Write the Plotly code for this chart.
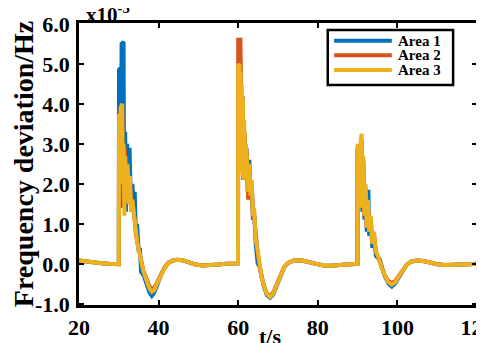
import plotly.graph_objects as go

# ---- data (values in units of 1e-5 Hz) ----
t_area1 = [20, 22, 25, 27.5, 30.0, 30.05, 30.4, 30.5, 30.7, 31.2, 31.35, 31.6, 31.8, 32.1, 32.4, 32.7, 33.0,
           33.4, 33.7, 34.0, 34.3, 34.6, 35.0, 35.3, 35.6, 36.3, 37.0, 37.7, 38.3, 38.9, 39.6, 40.5, 41.5,
           42.5, 43.5, 44.7, 46.0, 47.5, 49, 51, 53, 55, 57, 59.95,
           60.0, 60.3, 60.45, 60.65, 60.85, 61.05, 61.25, 61.5, 61.8, 62.1, 62.4, 62.8, 63.1, 63.4, 63.7,
           64.0, 64.4, 64.9, 65.3, 65.9, 66.5, 67.2, 68.0, 68.8, 69.6, 70.5, 71.5, 72.5, 74, 75.8, 77.5,
           79.5, 81.5, 83.5, 85.5, 88, 89.95,
           90.0, 90.4, 90.6, 91.0, 91.2, 91.4, 91.7, 92.0, 92.3, 92.7, 92.9, 93.3, 93.7, 94.1, 94.6, 95.2,
           95.6, 96.3, 97.0, 97.8, 98.6, 99.4, 100.3, 101.3, 102.3, 103.5, 105, 106.5, 108, 110, 112, 114,
           116, 118, 120]
v_area1 = [0.08, 0.05, 0.02, 0.0, -0.01, 4.85, 4.9, 1.4, 5.5, 5.55, 1.4, 3.3, 1.3, 3.0, 1.8, 2.9, 1.7,
           2.0, 1.6, 1.8, 0.7, 1.0, 0.3, 0.4, -0.2, -0.3, -0.5, -0.72, -0.8, -0.72, -0.55, -0.3, -0.1,
           0.03, 0.08, 0.1, 0.09, 0.04, -0.01, -0.04, -0.04, -0.02, 0.0, 0.01,
           4.7, 4.8, 2.5, 4.6, 2.3, 4.1, 2.1, 3.2, 2.2, 2.9, 1.8, 2.6, 1.7, 2.0, 1.1,
           1.3, 0.5, 0.0, -0.05, -0.38, -0.58, -0.78, -0.85, -0.77, -0.56, -0.32, -0.1, 0.02, 0.08, 0.09, 0.06,
           0.0, -0.04, -0.05, -0.03, -0.01, 0.0,
           2.9, 1.4, 2.8, 3.1, 1.3, 2.6, 1.1, 1.9, 0.8, 1.85, 0.7, 1.1, 0.4, 0.7, 0.2, 0.12,
           0.1, -0.15, -0.35, -0.5, -0.57, -0.5, -0.35, -0.16, -0.03, 0.06, 0.08, 0.07, 0.03, -0.01, -0.03, -0.03,
           -0.02, -0.01, 0.0]

t_area2 = [20, 22, 25, 27.5, 30.0, 30.05, 30.3, 30.45, 30.85, 31.0, 31.3, 31.5, 31.9, 32.2, 32.5, 32.8, 33.1,
           33.4, 33.8, 34.2, 34.6, 35.0, 35.5, 36.2, 37.0, 37.7, 38.3, 38.9, 39.6, 40.5, 41.5,
           42.5, 43.5, 44.7, 46.0, 47.5, 49, 51, 53, 55, 57, 59.95,
           60.0, 60.55, 60.7, 60.9, 61.1, 61.3, 61.6, 61.9, 62.2, 62.5, 62.8, 63.1, 63.4, 63.7,
           64.0, 64.4, 64.8, 65.3, 65.9, 66.5, 67.2, 68.0, 68.8, 69.6, 70.5, 71.5, 72.5, 74, 75.8, 77.5,
           79.5, 81.5, 83.5, 85.5, 88, 89.95,
           90.0, 90.4, 90.6, 91.0, 91.2, 91.4, 91.7, 92.0, 92.3, 92.6, 92.9, 93.3, 93.7, 94.1, 94.6, 95.2,
           96.0, 96.8, 97.6, 98.6, 99.4, 100.3, 101.3, 102.3, 103.5, 105, 106.5, 108, 110, 112, 114,
           116, 118, 120]
v_area2 = [0.08, 0.05, 0.02, 0.0, -0.01, 3.1, 2.0, 3.8, 3.9, 2.0, 1.4, 2.9, 1.6, 2.4, 1.5, 2.1, 1.3,
           1.6, 1.1, 0.9, 0.55, 0.35, 0.1, -0.18, -0.38, -0.56, -0.63, -0.6, -0.47, -0.28, -0.09,
           0.03, 0.08, 0.1, 0.09, 0.04, -0.01, -0.04, -0.04, -0.02, 0.0, 0.01,
           5.6, 5.6, 4.6, 2.3, 4.2, 2.1, 3.3, 2.2, 2.8, 1.6, 2.4, 1.6, 2.0, 1.2,
           1.2, 0.6, 0.35, 0.0, -0.35, -0.55, -0.75, -0.8, -0.72, -0.53, -0.3, -0.09, 0.02, 0.08, 0.09, 0.06,
           0.0, -0.04, -0.05, -0.03, -0.01, 0.0,
           2.9, 1.4, 2.8, 3.1, 1.4, 2.6, 1.2, 1.9, 0.9, 1.5, 0.8, 1.1, 0.5, 0.75, 0.3, 0.15,
           -0.1, -0.28, -0.42, -0.48, -0.44, -0.31, -0.14, -0.02, 0.06, 0.08, 0.07, 0.03, -0.01, -0.03, -0.03,
           -0.02, -0.01, 0.0]

t_area3 = [20, 22, 25, 27.5, 30.0, 30.05, 30.1, 30.25, 30.45, 30.85, 31.0, 31.2, 31.4, 31.6, 31.9, 32.2, 32.5,
           32.8, 33.1, 33.4, 33.8, 34.2, 34.6, 35.0, 35.5, 36.2, 37.0, 37.7, 38.3, 38.9, 39.6, 40.5, 41.5,
           42.5, 43.5, 44.7, 46.0, 47.5, 49, 51, 53, 55, 57, 59.95,
           60.0, 60.3, 60.45, 60.6, 60.75, 60.9, 61.05, 61.2, 61.35, 61.5, 61.7, 61.9, 62.2, 62.5, 62.8, 63.1,
           63.4, 63.7, 64.0, 64.4, 64.8, 65.3, 65.9, 66.5, 67.2, 68.0, 68.8, 69.6, 70.5, 71.5, 72.5, 74, 75.8,
           77.5, 79.5, 81.5, 83.5, 85.5, 88, 89.95,
           90.0, 90.4, 90.6, 91.0, 91.2, 91.4, 91.7, 92.0, 92.3, 92.6, 92.9, 93.3, 93.7, 94.1, 94.6, 95.2,
           96.0, 96.8, 97.6, 98.6, 99.4, 100.3, 101.3, 102.3, 103.5, 105, 106.5, 108, 110, 112, 114,
           116, 118, 120]
v_area3 = [0.08, 0.05, 0.02, 0.0, -0.01, 3.2, 3.75, 2.1, 3.9, 4.0, 2.0, 3.0, 1.2, 2.7, 1.6, 2.5, 1.5,
           2.2, 1.3, 1.6, 1.1, 0.9, 0.55, 0.35, 0.1, -0.2, -0.42, -0.62, -0.7, -0.66, -0.5, -0.3, -0.1,
           0.03, 0.08, 0.1, 0.09, 0.04, -0.01, -0.04, -0.04, -0.02, 0.0, 0.01,
           4.95, 5.0, 2.6, 4.8, 2.3, 4.5, 2.2, 4.1, 2.1, 3.6, 2.2, 3.0, 2.6, 1.8, 2.5, 1.7,
           2.1, 1.2, 1.4, 0.6, 0.4, 0.0, -0.35, -0.55, -0.75, -0.83, -0.75, -0.55, -0.32, -0.1, 0.02, 0.08, 0.09,
           0.06, 0.0, -0.04, -0.05, -0.03, -0.01, 0.0,
           3.0, 1.4, 2.9, 3.25, 1.4, 2.7, 1.2, 2.0, 0.9, 1.6, 0.8, 1.2, 0.5, 0.8, 0.3, 0.18,
           -0.1, -0.3, -0.45, -0.52, -0.47, -0.33, -0.15, -0.02, 0.06, 0.08, 0.07, 0.03, -0.01, -0.03, -0.03,
           -0.02, -0.01, 0.0]

series_names = ["Area 1", "Area 2", "Area 3"]
series_colors = ["#0072BD", "#D95319", "#EDB120"]

x_ticks = [20, 40, 60, 80, 100, 120]
y_ticks = [-1, 0, 1, 2, 3, 4, 5, 6]
y_ticklabels = ["-1.0", "0.0", "1.0", "2.0", "3.0", "4.0", "5.0", "6.0"]

SERIF = "Times New Roman, Liberation Serif, serif"

fig = go.Figure()
for name, color, t, v in zip(series_names, series_colors,
                             [t_area1, t_area2, t_area3], [v_area1, v_area2, v_area3]):
    fig.add_trace(go.Scatter(x=t, y=v, mode="lines", name=name, showlegend=False,
                             line=dict(color=color, width=4)))

axis_common = dict(showgrid=False, zeroline=False, showline=True, linecolor="black", linewidth=2.5,
                   mirror="ticks", ticks="inside", ticklen=5, tickwidth=2, tickcolor="black",
                   automargin=False, ticklabeloverflow="allow",
                   tickfont=dict(family=SERIF, size=22, color="black", weight="bold"))

# the page body adds an 8px offset, so the figure is sized to fit inside the window
fig.update_layout(
    width=476, height=335,
    margin=dict(l=71, r=7, t=15, b=38),
    paper_bgcolor="white", plot_bgcolor="white",
    xaxis=dict(range=[20, 120], tickvals=x_ticks, ticklabelstandoff=1, **axis_common),
    yaxis=dict(range=[-1.03, 6.02], tickvals=y_ticks, ticktext=y_ticklabels, ticklabelstandoff=2,
               title=dict(text="Frequency deviation/Hz", standoff=2,
                          font=dict(family=SERIF, size=28, color="black", weight="bold")),
               **axis_common),
)

# exponent label and x-axis label
fig.add_annotation(xref="paper", yref="paper", x=0.012, y=1.0, xanchor="left", yanchor="bottom",
                   yshift=-6, showarrow=False, text="x10<sup>-5</sup>",
                   font=dict(family=SERIF, size=21, color="black", weight="bold"))
fig.add_annotation(xref="paper", yref="paper", x=0.48, y=0.0, xanchor="center", yanchor="top",
                   yshift=-17, showarrow=False, text="t/s",
                   font=dict(family=SERIF, size=22, color="black", weight="bold"))

# legend (drawn in paper coordinates)
leg_x0, leg_x1, leg_y0, leg_y1 = 0.625, 0.94, 0.78, 0.975
fig.add_shape(type="rect", xref="paper", yref="paper", x0=leg_x0, x1=leg_x1, y0=leg_y0, y1=leg_y1,
              line=dict(color="black", width=2.5), fillcolor="white", layer="above")
row_y = [0.937, 0.886, 0.833]
for name, color, ry in zip(series_names, series_colors, row_y):
    fig.add_shape(type="line", xref="paper", yref="paper", x0=0.641, x1=0.786, y0=ry, y1=ry,
                  line=dict(color=color, width=4), layer="above")
    fig.add_annotation(xref="paper", yref="paper", x=0.8, y=ry, xanchor="left", yanchor="middle",
                       showarrow=False, text=name, borderpad=0, height=14,
                       font=dict(family=SERIF, size=15, color="black", weight="bold"))

fig.write_html("out.html")
